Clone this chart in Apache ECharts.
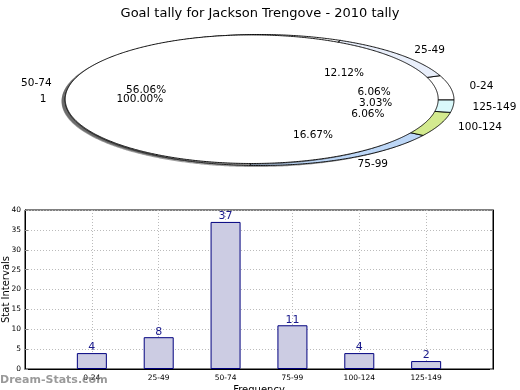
<!DOCTYPE html>
<html>
<head>
<meta charset="utf-8">
<script src="https://cdn.jsdelivr.net/npm/echarts@6/dist/echarts.min.js"></script>
<style>
html,body{margin:0;padding:0;background:#fff;}
#chart{width:520px;height:390px;}
</style>
</head>
<body>
<div id="chart"></div>
<script>
// ---- data ----
const titleText = 'Goal tally for Jackson Trengove - 2010 tally';
const categories = ['0-24', '25-49', '50-74', '75-99', '100-124', '125-149'];
const counts = [4, 8, 37, 11, 4, 2];
const innerLabels = ['1'];
const innerValues = [1];
const pieColors = ['#ffffff', '#e9effb', '#ffffff', '#bdd7f7', '#d3ea8f', '#daf9fb'];
const innerColors = ['#ffffff'];
const yMin = 0, yMax = 40, yStep = 5;

// ---- geometry (layout only) ----
const OUT = {cx: 259.5, cy: 100, rx: 194.5, ry: 65.5};
const INN = {cx: 251.7, cy: 99.2, rx: 186.5, ry: 64.3};
const SH = {dx: -3.5, dy: 1.5};
const FONT = 'DejaVu Sans';

function starts(vals) {
  const tot = vals.reduce((a, b) => a + b, 0);
  const s = []; let acc = 0;
  vals.forEach(v => { s.push(acc / tot * 360); acc += v; });
  return {tot, s};
}
const outerS = starts(counts);
const innerS = starts(innerValues);

function ellPts(c, a0, a1, dx, dy) {
  const pts = [];
  const full = Math.abs(a1 - a0) >= 359.999;
  if (!full) pts.push([c.cx + dx, c.cy + dy]);
  const n = Math.max(2, Math.ceil(Math.abs(a1 - a0) * 2));
  for (let k = 0; k <= n; k++) {
    const t = (a0 + (a1 - a0) * k / n) * Math.PI / 180;
    pts.push([c.cx + dx + c.rx * Math.cos(t), c.cy + dy - c.ry * Math.sin(t)]);
  }
  return pts;
}

function wedgeSeries(vals, geo, S, colors, shadow, z) {
  return {
    type: 'custom', coordinateSystem: 'none', silent: true, animation: false, z: z,
    data: vals.map(v => [v]),
    renderItem: function (params, api) {
      const i = params.dataIndex;
      const v = api.value(0);
      const a0 = S.s[i];
      const a1 = a0 + v / S.tot * 360;
      if (shadow) {
        return {type: 'polygon', shape: {points: ellPts(geo, a0, a1, SH.dx, SH.dy)},
          style: {fill: 'rgba(60,60,60,0.5)', stroke: null}};
      }
      return {type: 'polygon', shape: {points: ellPts(geo, a0, a1, 0, 0)},
        style: {fill: colors[i], stroke: '#000', lineWidth: 0.9}};
    }
  };
}

function labelSeries(vals, names, geo, S, z) {
  return {
    type: 'custom', coordinateSystem: 'none', silent: true, animation: false, z: z,
    data: vals.map(v => [v]),
    renderItem: function (params, api) {
      const i = params.dataIndex;
      const v = api.value(0);
      const a0 = S.s[i];
      const a1 = a0 + v / S.tot * 360;
      const m = (a0 + a1) / 2 * Math.PI / 180;
      const c = Math.cos(m), s = Math.sin(m);
      const lx = geo.cx + 1.1 * geo.rx * c, ly = geo.cy - 1.1 * geo.ry * s;
      const px = geo.cx + 0.6 * geo.rx * c, py = geo.cy - 0.6 * geo.ry * s;
      return {type: 'group', children: [
        {type: 'text', x: lx, y: ly, style: {text: names[i], fill: '#000', fontSize: 10.5, fontFamily: FONT,
          align: c > 0 ? 'left' : 'right', verticalAlign: 'middle'}},
        {type: 'text', x: px, y: py, style: {text: (v / S.tot * 100).toFixed(2) + '%', fill: '#000', fontSize: 10.5, fontFamily: FONT,
          align: 'center', verticalAlign: 'middle'}}
      ]};
    }
  };
}

const xData = [''].concat(categories, ['']);
const barData = ['-'].concat(counts, ['-']);

const chart = echarts.init(document.getElementById('chart'), null, {renderer: 'canvas'});
chart.setOption({
  animation: false,
  backgroundColor: '#fff',
  title: {text: titleText, left: 'center', top: 2,
    textStyle: {fontFamily: FONT, fontSize: 13, fontWeight: 'normal', color: '#000'}},
  graphic: [{type: 'text', left: 0, top: 375, z: 100, silent: true,
    style: {text: 'Dream-Stats.com', fill: 'rgba(120,120,120,0.75)', font: 'bold 11px "DejaVu Sans"'}}],
  grid: {left: 25, right: 27, top: 210, bottom: 21, outerBoundsMode: 'none', containLabel: false,
    show: true, borderColor: '#000', borderWidth: 1, backgroundColor: 'transparent'},
  xAxis: {type: 'category', data: xData, boundaryGap: false,
    name: 'Frequency', nameLocation: 'middle', nameGap: 16, nameMoveOverlap: false,
    nameTextStyle: {fontFamily: FONT, fontSize: 10, color: '#000'},
    axisLine: {lineStyle: {color: '#000', width: 1}},
    axisTick: {inside: true, length: 3, lineStyle: {color: '#000'}},
    axisLabel: {fontFamily: FONT, fontSize: 7.5, color: '#000', margin: 5, interval: 0},
    splitLine: {show: true, lineStyle: {color: '#bbbbbb', type: [1, 2], width: 1}}},
  yAxis: [{type: 'value', min: yMin, max: yMax, interval: yStep,
    name: 'Stat Intervals', nameLocation: 'middle', nameGap: 14, nameRotate: 90, nameMoveOverlap: false,
    nameTextStyle: {fontFamily: FONT, fontSize: 10, color: '#000'},
    axisLine: {show: true, lineStyle: {color: '#000', width: 1}},
    axisTick: {show: true, inside: true, length: 3, lineStyle: {color: '#888'}},
    axisLabel: {fontFamily: FONT, fontSize: 7.5, color: '#000', margin: 4},
    splitLine: {show: true, lineStyle: {color: '#bbbbbb', type: [1, 2], width: 1}}},
    {type: 'value', min: yMin, max: yMax, interval: yStep, position: 'right',
    axisLine: {show: true, lineStyle: {color: '#000', width: 1}},
    axisTick: {show: true, inside: true, length: 3, lineStyle: {color: '#888'}},
    axisLabel: {show: false}, splitLine: {show: false}}],
  series: [
    wedgeSeries(counts, OUT, outerS, pieColors, true, 1),
    wedgeSeries(counts, OUT, outerS, pieColors, false, 2),
    wedgeSeries(innerValues, INN, innerS, innerColors, true, 3),
    wedgeSeries(innerValues, INN, innerS, innerColors, false, 4),
    labelSeries(counts, categories, OUT, outerS, 5),
    labelSeries(innerValues, innerLabels, INN, innerS, 6),
    {type: 'bar', data: barData, barWidth: 30, z: 2,
      itemStyle: {color: '#cccce3', borderColor: '#00007f', borderWidth: 1},
      label: {show: true, position: 'top', distance: 0, fontFamily: FONT, fontSize: 11, color: '#1a1a8c'}}
  ]
});
</script>
</body>
</html>
